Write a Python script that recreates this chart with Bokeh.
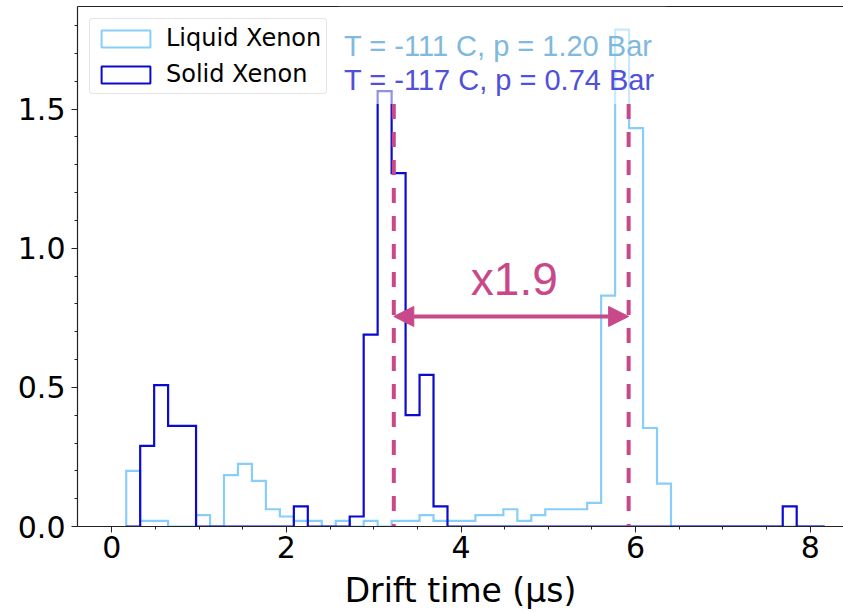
import numpy as np
from bokeh.plotting import figure
from bokeh.models import (Range1d, LinearAxis, FixedTicker, SingleIntervalTicker,
                          PrintfTickFormatter, Legend, LegendItem, Label, Arrow,
                          NormalHead, BoxAnnotation, ColumnDataSource)
from bokeh.embed import file_html
from bokeh.resources import INLINE

# ---------------- data ----------------
bin_edges = [0.165, 0.325, 0.485, 0.645, 0.805, 0.965, 1.125, 1.285, 1.445, 1.605,
             1.765, 1.925, 2.085, 2.245, 2.405, 2.565, 2.725, 2.885, 3.045, 3.205,
             3.365, 3.525, 3.685, 3.845, 4.005, 4.165, 4.325, 4.485, 4.645, 4.805,
             4.965, 5.125, 5.285, 5.445, 5.605, 5.765, 5.925, 6.085, 6.245, 6.405,
             6.565, 6.725, 6.885, 7.045, 7.205, 7.365, 7.525, 7.685, 7.845, 8.005,
             8.165]

liquid_density = [0.200, 0.020, 0.020, 0.000, 0.000, 0.041, 0.000, 0.185, 0.225, 0.164,
                  0.062, 0.036, 0.020, 0.020, 0.000, 0.020, 0.000, 0.020, 0.000, 0.020,
                  0.020, 0.041, 0.020, 0.020, 0.020, 0.041, 0.041, 0.062, 0.020, 0.041,
                  0.062, 0.062, 0.062, 0.085, 0.830, 1.786, 1.432, 0.354, 0.154, 0.000,
                  0.000, 0.000, 0.000, 0.000, 0.000, 0.000, 0.000, 0.000, 0.000, 0.000]

solid_density = [0.000, 0.290, 0.508, 0.362, 0.362, 0.000, 0.000, 0.000, 0.000, 0.000,
                 0.000, 0.000, 0.072, 0.000, 0.000, 0.000, 0.036, 0.690, 1.565, 1.270,
                 0.400, 0.545, 0.072, 0.000, 0.000, 0.000, 0.000, 0.000, 0.000, 0.000,
                 0.000, 0.000, 0.000, 0.000, 0.000, 0.000, 0.000, 0.000, 0.000, 0.000,
                 0.000, 0.000, 0.000, 0.000, 0.000, 0.000, 0.000, 0.072, 0.000, 0.000]

series_labels = ["Liquid Xenon", "Solid Xenon"]
condition_labels = ["T = -111 C, p = 1.20 Bar", "T = -117 C, p = 0.74 Bar"]
peak_times = [3.23, 5.92]          # drift-time markers (µs)
ratio_label = "x1.9"
x_ticks_interval = 2
y_ticks_interval = 0.5

# ---------------- styles ----------------
LIQ = "#87cefa"
SOL = "#0b0bcf"
LIQ_TXT = "#80b9de"
SOL_TXT = "#5050d8"
PINK = "#c9488a"
AX = "#222222"


def step_xy(edges, vals):
    xs = [edges[0]]
    ys = [0.0]
    for i, v in enumerate(vals):
        xs += [edges[i], edges[i + 1]]
        ys += [v, v]
    xs.append(edges[-1])
    ys.append(0.0)
    return xs, ys


p = figure(width=843, height=613,
           x_range=Range1d(-0.393, 8.381), y_range=Range1d(0, 1.869),
           output_backend="svg", toolbar_location=None,
           min_border_left=77, min_border_right=0, min_border_top=6,
           min_border_bottom=87)
p.outline_line_color = None
p.grid.visible = False
p.background_fill_color = "white"
p.border_fill_color = "white"

# axes
p.xaxis.ticker = SingleIntervalTicker(interval=x_ticks_interval, num_minor_ticks=4)
p.yaxis.ticker = SingleIntervalTicker(interval=y_ticks_interval, num_minor_ticks=5)
p.xaxis.formatter = PrintfTickFormatter(format="%d")
p.yaxis.formatter = PrintfTickFormatter(format="%.1f")
for ax in (p.xaxis[0], p.yaxis[0]):
    ax.axis_line_color = AX
    ax.axis_line_width = 1.2
    ax.major_tick_line_color = AX
    ax.minor_tick_line_color = AX
    ax.major_tick_out = 6
    ax.major_tick_in = 0
    ax.minor_tick_out = 3
    ax.minor_tick_in = 0
    ax.major_label_text_font = "DejaVu Sans"
    ax.major_label_text_font_size = "30px"
    ax.major_label_text_color = "black"
p.xaxis.major_label_standoff = 3
p.yaxis.major_label_standoff = 6
p.xaxis.axis_label = "Drift time (\u03bcs)"
p.xaxis.axis_label_text_font = "DejaVu Sans"
p.xaxis.axis_label_text_font_size = "33px"
p.xaxis.axis_label_text_font_style = "normal"
p.xaxis.axis_label_text_color = "black"
p.xaxis.axis_label_standoff = 10

top_axis = LinearAxis(ticker=FixedTicker(ticks=[]), major_label_text_font_size="0px",
                      major_tick_out=0, major_tick_in=0, minor_tick_out=0, minor_tick_in=0,
                      axis_line_color=AX, axis_line_width=1.2, major_label_standoff=0)
p.add_layout(top_axis, "above")

# histograms (step outlines)
lx, ly = step_xy(bin_edges, liquid_density)
sx, sy = step_xy(bin_edges, solid_density)
p.line(lx, ly, line_color=LIQ, line_width=2.2, line_join="miter")
p.line(sx, sy, line_color=SOL, line_width=2.2, line_join="miter")

# dashed markers
p.segment(x0=peak_times, y0=[1.519, 1.519], x1=peak_times, y1=[0.0, 0.0],
          line_color=PINK, line_width=4, line_dash="15 13", line_cap="butt")

# double arrow
arr = Arrow(x_start=peak_times[0], y_start=0.755, x_end=peak_times[1], y_end=0.755,
            line_color=PINK, line_width=4,
            start=NormalHead(size=20, fill_color=PINK, line_color=PINK, line_width=1),
            end=NormalHead(size=20, fill_color=PINK, line_color=PINK, line_width=1))
p.add_layout(arr)

p.add_layout(Label(x=(peak_times[0] + peak_times[1]) / 2 + 0.035, y=0.89, text=ratio_label,
                   text_color=PINK, text_font="Liberation Sans", text_font_size="46px",
                   text_align="center", text_baseline="alphabetic"))

# fading box behind condition labels
p.add_layout(BoxAnnotation(left=2.6, right=6.35, bottom=1.519, top=1.869,
                           fill_color="white", fill_alpha=0.55, line_color=None))

p.add_layout(Label(x=2.66, y=1.728, text=condition_labels[0], text_color=LIQ_TXT,
                   text_font="Liberation Sans", text_font_size="29px",
                   text_baseline="alphabetic"))
p.add_layout(Label(x=2.66, y=1.604, text=condition_labels[1], text_color=SOL_TXT,
                   text_font="Liberation Sans", text_font_size="29px",
                   text_baseline="alphabetic"))

# legend with rectangle patches (proxy glyphs placed outside the visible range)
proxy = ColumnDataSource(dict(l=[-3.0], r=[-2.0], t=[-2.0], b=[-3.0]))
q1 = p.quad(left="l", right="r", top="t", bottom="b", source=proxy,
            fill_color="white", line_color=LIQ, line_width=2)
q2 = p.quad(left="l", right="r", top="t", bottom="b", source=proxy,
            fill_color="white", line_color=SOL, line_width=2)
legend = Legend(items=[LegendItem(label=series_labels[0], renderers=[q1]),
                       LegendItem(label=series_labels[1], renderers=[q2])],
                location="top_left", margin=12, padding=5, spacing=8,
                glyph_width=61, glyph_height=21, label_standoff=10,
                label_text_font="DejaVu Sans", label_text_font_size="24px",
                label_text_color="black",
                border_line_color="#cccccc", border_line_width=1,
                background_fill_color="white", background_fill_alpha=0.85)
try:
    legend.border_radius = 4
except Exception:
    pass
p.add_layout(legend)

open("out.html", "w").write(file_html(p, INLINE))
